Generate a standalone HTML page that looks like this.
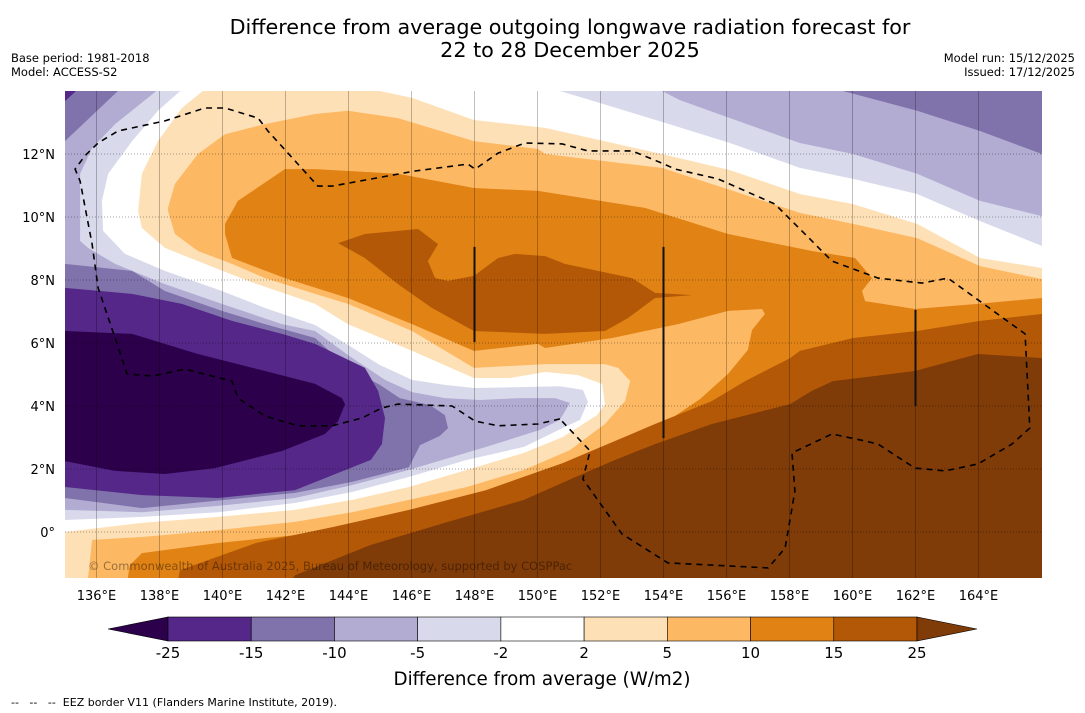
<!DOCTYPE html>
<html><head><meta charset="utf-8">
<style>
html,body{margin:0;padding:0;background:#fff;}
svg{display:block;font-family:"DejaVu Sans","Liberation Sans",sans-serif;}
</style></head>
<body>
<svg id="chart" width="1085" height="713" viewBox="0 0 1085 713" xmlns="http://www.w3.org/2000/svg">
  <rect width="1085" height="713" fill="#fff"/>
  <text x="570" y="34" font-size="20.7" text-anchor="middle" fill="#000">Difference from average outgoing longwave radiation forecast for</text>
  <text x="570" y="57" font-size="20.7" text-anchor="middle" fill="#000">22 to 28 December 2025</text>
  <text x="11" y="62" font-size="11.5">Base period: 1981-2018</text>
  <text x="11" y="76" font-size="11.5">Model: ACCESS-S2</text>
  <text x="1075" y="62" font-size="11.5" text-anchor="end">Model run: 15/12/2025</text>
  <text x="1075" y="76" font-size="11.5" text-anchor="end">Issued: 17/12/2025</text>
  <defs><clipPath id="mapclip"><rect x="65" y="91" width="977" height="487"/></clipPath></defs>
  <g id="map" clip-path="url(#mapclip)">
    <rect x="65" y="91" width="977" height="487" fill="#fee0b6"/>
    <g id="fills"></g>
    <g id="grid"></g>
    <g id="eez"></g>
  </g>
  <g id="axes"></g>
  <text x="88" y="570" font-size="11.5" fill="#000" fill-opacity="0.4">© Commonwealth of Australia 2025, Bureau of Meteorology, supported by COSPPac</text>
  <g id="colorbar"></g>
  <text x="542" y="685" font-size="18.3" text-anchor="middle">Difference from average (W/m2)</text>
  <text x="11" y="706" font-size="11" style="white-space:pre" xml:space="preserve">--   --   --  EEZ border V11 (Flanders Marine Institute, 2019).</text>
</svg>
<script>
// axes ticks
const lonTicks = [136,138,140,142,144,146,148,150,152,154,156,158,160,162,164];
const latTicks = [0,2,4,6,8,10,12];
// colour levels
const levelValues = [-25,-15,-10,-5,-2,2,5,10,15,25];
const levelColors = ["#2d004b","#542788","#8073ac","#b2abd2","#d8daeb","#ffffff","#fee0b6","#fdb863","#e08214","#b35806","#7f3b08"];
// contour regions [lon,lat]
const pos5 = [[138.27,10.29],[138.49,11.05],[139.22,12.0],[140.08,12.63],[141.35,12.95],[142.94,13.27],[143.98,13.37],[145.57,13.14],[147.98,12.41],[150.02,12.16],[150.24,12.0],[153.95,11.56],[156.11,10.86],[158.33,10.13],[160.02,9.78],[162.05,9.33],[164.05,8.44],[166.02,8.03],[166.5,8.03],[166.5,-2],[135.63,-2],[135.73,-1.46],[135.86,-0.25],[137.44,-0.16],[139.86,0.06],[142.30,0.32],[144.11,0.63],[145.92,1.02],[147.76,1.43],[149.57,1.97],[151.03,2.60],[152.14,3.43],[152.78,4.16],[152.94,4.79],[152.56,5.21],[152.14,5.33],[150.24,5.33],[147.98,5.21],[146.02,6.38],[143.98,7.24],[142.94,7.56],[141.35,8.06],[140.30,8.51],[139.22,8.92],[138.49,9.46],[138.27,10.19]];
const pos10 = [[140.08,9.46],[140.08,9.78],[140.49,10.51],[141.98,11.52],[142.94,11.52],[145.57,11.37],[147.98,10.92],[150.02,10.83],[153.41,10.29],[156.05,9.46],[158.71,8.92],[160.08,8.70],[160.62,8.06],[160.30,7.65],[160.40,7.33],[161.98,7.08],[163.98,7.24],[166.02,7.43],[166.5,7.43],[166.5,-2],[136.9,-2],[137.06,-1.05],[137.44,-0.67],[139.86,-0.35],[142.30,-0.10],[144.71,0.29],[147.16,0.76],[149.57,1.33],[151.41,1.97],[152.62,2.76],[153.41,3.17],[154.27,3.62],[155.16,4.22],[156.05,5.02],[156.68,5.78],[156.81,6.41],[157.22,6.92],[157.13,7.08],[156.05,7.02],[154.46,6.60],[152.37,6.16],[150.24,5.84],[150.02,5.97],[147.98,5.75],[146.02,6.60],[143.98,7.43],[141.98,8.06],[140.30,8.70]];
const pos15a = [[143.67,9.17],[144.52,9.46],[146.21,9.62],[146.84,9.14],[146.52,8.60],[146.75,8.06],[147.16,7.97],[147.98,8.13],[148.75,8.70],[149.29,8.83],[150.24,8.76],[150.87,8.51],[151.92,8.29],[153.0,8.06],[153.73,7.59],[154.90,7.52],[153.73,7.43],[152.87,6.79],[152.14,6.38],[150.24,6.29],[147.98,6.38],[146.65,7.11],[145.57,7.87],[144.52,8.70]];
const pos15b = [[166.5,6.92],[166.5,-2],[138.49,-2],[138.65,-1.21],[141.06,-0.35],[143.51,0.16],[145.92,0.70],[148.37,1.33],[150.81,2.19],[152.02,2.70],[153.73,3.43],[155.54,4.16],[156.59,4.79],[158.02,5.52],[158.33,5.75],[160.02,6.16],[162.05,6.38],[164.05,6.70],[166.02,6.92]];
const pos25 = [[166.5,5.52],[166.5,-2],[141.83,-2],[142.30,-1.37],[144.71,-0.41],[147.16,0.32],[149.57,1.02],[151.29,1.78],[152.37,2.25],[153.73,2.79],[155.54,3.43],[158.02,4.06],[158.71,4.48],[159.38,4.79],[161.98,5.11],[163.98,5.65],[166.02,5.52]];
const negW2Left = [[134.5,14.5],[139.98,14.5],[138.71,13.46],[137.95,12.41],[137.44,11.37],[137.32,10.19],[137.44,9.65],[138.17,9.02],[139.44,8.51],[140.81,7.97],[142.94,7.24],[143.98,6.60],[146.02,5.75],[147.98,4.89],[149.13,4.89],[150.24,5.08],[151.29,4.98],[152.05,4.70],[152.14,4.06],[151.89,3.71],[150.81,3.02],[149.57,2.51],[147.76,1.97],[145.92,1.43],[144.11,1.02],[142.30,0.70],[139.86,0.48],[137.44,0.29],[135,0],[134.5,0]];
const neg2Left = [[134.5,14.5],[139.22,14.5],[137.95,13.37],[137.13,12.41],[136.37,11.37],[136.17,10.51],[136.21,9.56],[136.90,8.83],[138.17,8.29],[139.98,7.65],[141.35,7.11],[142.94,6.57],[143.98,5.94],[145.0,5.30],[146.02,4.83],[147.06,4.67],[147.98,4.57],[149.44,4.60],[150.71,4.63],[151.44,4.51],[151.60,4.13],[151.35,3.56],[150.68,3.24],[149.57,2.70],[147.76,2.29],[145.92,1.75],[144.11,1.27],[142.30,0.92],[139.86,0.63],[137.44,0.48],[135,0.38],[134.5,0.38]];
const neg5Left = [[134.5,14.5],[137.9,14.5],[137.9,14.0],[136.59,12.95],[135.86,12.19],[135.48,11.37],[135.48,9.24],[135.73,9.02],[136.59,8.51],[138.17,7.87],[139.98,7.24],[141.89,6.60],[142.94,6.38],[143.98,5.62],[145.16,4.83],[146.02,4.44],[147.06,4.25],[148.17,4.19],[149.44,4.25],[150.56,4.25],[151.03,4.10],[150.71,3.56],[150.08,3.24],[148.37,2.70],[145.92,1.97],[144.11,1.49],[142.30,1.08],[139.86,0.83],[137.44,0.63],[135,0.70],[134.5,0.70]];
const neg10Corner = [[134.5,14.5],[136.7,14.5],[136.68,14.0],[135,12.41],[134.5,12.41]];
const neg10Left = [[134.5,8.51],[135,8.51],[137.13,8.29],[138.17,7.65],[139.98,7.02],[141.35,6.60],[142.94,6.16],[143.98,5.21],[145.0,4.67],[145.63,4.25],[146.59,4.03],[147.06,3.71],[147.16,3.30],[146.9,3.05],[146.27,2.76],[145.92,2.06],[144.11,1.59],[142.30,1.24],[137.44,0.76],[135,1.08],[134.5,1.08]];
const neg15Corner = [[134.5,14.5],[135.35,14.5],[135.35,14.0],[135,13.68],[134.5,13.68]];
const neg15Left = [[134.5,7.75],[135,7.75],[137.13,7.56],[138.71,7.24],[140.30,6.70],[141.89,6.29],[142.94,5.97],[144.52,5.21],[144.94,4.48],[145.16,3.62],[145.06,2.79],[144.71,2.29],[142.30,1.33],[139.86,1.08],[137.44,1.17],[135,1.43],[134.5,1.43]];
const neg25Left = [[134.5,6.38],[135,6.38],[137.13,6.29],[139.22,5.65],[141.35,5.11],[142.94,4.70],[143.79,4.25],[143.89,4.06],[143.67,3.52],[143.25,3.11],[141.89,2.57],[139.76,2.03],[138.17,1.84],[136.59,1.94],[135,2.25],[134.5,2.25]];
const negW2Right = [[145.0,14.5],[166.5,14.5],[166.5,8.38],[166.02,8.38],[164.05,8.70],[162.05,9.78],[160.02,10.41],[158.33,10.73],[156.11,11.49],[153.95,12.0],[151.98,12.44],[150.24,12.83],[147.98,13.08],[146.02,13.78],[145.0,14.0]];
const neg2Right = [[150.24,14.5],[150.71,14.0],[151.98,13.62],[153.95,13.02],[156.11,12.35],[158.33,11.56],[160.02,11.21],[162.05,10.73],[164.05,9.87],[166.02,9.08],[166.5,9.08],[166.5,14.5]];
const neg5Right = [[153.95,14.5],[153.95,14.0],[154.52,13.71],[156.11,13.14],[158.33,12.35],[160.02,12.0],[162.05,11.37],[164.05,10.51],[166.02,10.03],[166.5,10.03],[166.5,14.5]];
const neg10Right = [[159.7,14.5],[159.7,14.0],[162.05,13.37],[164.05,12.73],[166.02,12.0],[166.5,12.0],[166.5,14.5]];
// EEZ border (dashed) and solid segments
const eezLine = [[150.71,3.59],[150.02,3.43],[148.75,3.37],[148.02,3.52],[147.29,4.0],[145.57,4.06],[145.06,3.94],[144.43,3.62],[143.48,3.37],[142.40,3.37],[141.35,3.68],[140.49,4.25],[140.30,4.79],[138.81,5.17],[137.76,4.95],[136.97,5.02],[136.59,6.16],[136.05,7.75],[135.86,9.14],[135.48,11.14],[135.32,11.52],[135.63,11.94],[136.05,12.35],[136.68,12.73],[138.17,13.05],[139.44,13.46],[140.08,13.46],[141.13,13.14],[141.44,12.73],[143.03,10.98],[143.48,10.98],[146.11,11.46],[147.79,11.68],[148.02,11.52],[148.75,12.03],[149.60,12.35],[150.78,12.32],[151.60,12.10],[153.0,12.10],[153.95,11.71],[154.37,11.52],[155.73,11.21],[157.54,10.41],[158.08,9.87],[159.35,8.60],[160.81,8.06],[162.21,7.90],[163.03,8.06],[165.48,6.29],[165.63,3.30],[165.06,2.79],[163.98,2.16],[162.94,1.94],[161.98,2.03],[160.81,2.79],[160.40,2.89],[159.35,3.11],[158.08,2.51],[158.17,1.30],[157.86,-0.51],[157.32,-1.14],[154.14,-0.98],[152.68,-0.06],[151.44,1.68],[151.67,2.57],[150.71,3.59]];
const solidLons = [148,154,162];
const solidLatTop = [9.05,9.05,7.05];
const solidLatBottom = [6.03,2.98,4.0];

const NS="http://www.w3.org/2000/svg";
function X(lon){return 65+(lon-135)*31.5;}
function Y(lat){return 532-lat*31.5;}
function mk(tag,attrs,parent){const e=document.createElementNS(NS,tag);for(const k in attrs)e.setAttribute(k,attrs[k]);parent.appendChild(e);return e;}
function pts(arr){return arr.map(p=>X(p[0]).toFixed(1)+","+Y(p[1]).toFixed(1)).join(" ");}
const fills=document.getElementById('fills');
const regions=[
 ['region-ge-5',pos5,7],['region-ge-10',pos10,8],['region-ge-15-north',pos15a,9],['region-ge-15-south',pos15b,9],['region-ge-25',pos25,10],
 ['region-lt-2-west',negW2Left,5],['region-lt-2-north',negW2Right,5],
 ['region-le-minus2-west',neg2Left,4],['region-le-minus2-north',neg2Right,4],
 ['region-le-minus5-west',neg5Left,3],['region-le-minus5-north',neg5Right,3],
 ['region-le-minus10-corner',neg10Corner,2],['region-le-minus10-west',neg10Left,2],['region-le-minus10-north',neg10Right,2],
 ['region-le-minus15-corner',neg15Corner,1],['region-le-minus15-west',neg15Left,1],
 ['region-le-minus25-west',neg25Left,0]
];
regions.forEach(r=>{
  const p=mk('polygon',{points:pts(r[1]),fill:levelColors[r[2]]},fills);
  
  
});
const grid=document.getElementById('grid');
lonTicks.forEach(l=>{
  const g=mk('line',{x1:X(l),x2:X(l),y1:91,y2:578,stroke:'#000','stroke-opacity':0.25,'stroke-width':1},grid);
  
  
});
latTicks.forEach(l=>{
  const g=mk('line',{x1:65,x2:1042,y1:Y(l),y2:Y(l),stroke:'#000','stroke-opacity':0.35,'stroke-width':1,'stroke-dasharray':'1,2'},grid);
  
  
});
const eez=document.getElementById('eez');
const el=mk('polyline',{points:pts(eezLine),fill:'none',stroke:'#000','stroke-width':1.6,'stroke-dasharray':'6,5'},eez);


solidLons.forEach((l,i)=>{
  const s=mk('line',{x1:X(l),x2:X(l),y1:Y(solidLatTop[i]),y2:Y(solidLatBottom[i]),stroke:'#111','stroke-width':2},eez);
  
  
});
const axes=document.getElementById('axes');
lonTicks.forEach(l=>{
  const t=mk('text',{x:X(l),y:600,'font-size':13,'text-anchor':'middle'},axes);
  t.textContent=l+'°E';
  
  
});
latTicks.forEach(l=>{
  const t=mk('text',{x:55,y:Y(l)+5,'font-size':13,'text-anchor':'end'},axes);
  t.textContent=l===0?'0°':l+'°N';
  
  
});
// colorbar
const cb=document.getElementById('colorbar');
const cbX0=168,cbX1=917,cbY0=617,cbY1=641;
const step=(cbX1-cbX0)/(levelValues.length-1);
const lt=mk('polygon',{points:`108,629 ${cbX0},${cbY0} ${cbX0},${cbY1}`,fill:levelColors[0],stroke:'#000','stroke-width':0.6},cb);


for(let i=0;i<levelValues.length-1;i++){
  const r=mk('rect',{x:cbX0+i*step,y:cbY0,width:step,height:cbY1-cbY0,fill:levelColors[i+1],stroke:'#000','stroke-width':0.6},cb);
  
  
}
const rt=mk('polygon',{points:`977,629 ${cbX1},${cbY0} ${cbX1},${cbY1}`,fill:levelColors[10],stroke:'#000','stroke-width':0.6},cb);


levelValues.forEach((v,i)=>{
  const t=mk('text',{x:cbX0+i*step,y:658,'font-size':15,'text-anchor':'middle'},cb);
  t.textContent=v;
  
  
});
</script>
</body></html>
